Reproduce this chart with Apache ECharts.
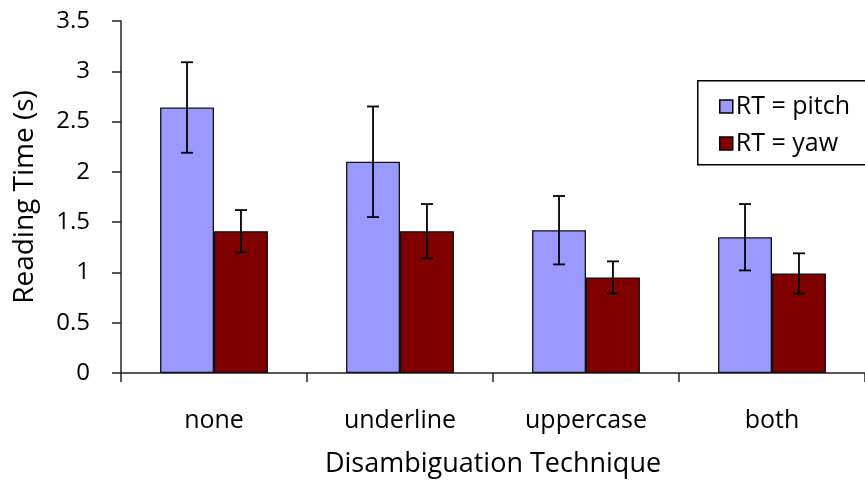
<!DOCTYPE html>
<html>
<head>
<meta charset="utf-8">
<script src="https://cdn.jsdelivr.net/npm/echarts@6/dist/echarts.min.js"></script>
<style>html,body{margin:0;padding:0;background:#fff}#c{width:865px;height:483px}</style>
</head>
<body>
<div id="c"></div>
<script>
const categories = ['none', 'underline', 'uppercase', 'both'];
const pitchValues = [2.64, 2.10, 1.42, 1.35];
const pitchErr = [0.45, 0.55, 0.34, 0.33];
const yawValues = [1.41, 1.41, 0.95, 0.99];
const yawErr = [0.21, 0.27, 0.16, 0.20];
const seriesNames = ['RT = pitch', 'RT = yaw'];
const xTitle = 'Disambiguation Technique';
const yTitle = 'Reading Time (s)';

const FONT = '"Open Sans", "Noto Sans", sans-serif';
const BAR_FRAC = 0.29;

function errData(vals, errs) {
  return vals.map((v, i) => [i, v - errs[i], v + errs[i]]);
}
function errSeries(vals, errs, side) {
  return {
    type: 'custom',
    silent: true,
    z: 10,
    data: errData(vals, errs),
    encode: { x: 0, y: [1, 2] },
    renderItem: function (params, api) {
      const i = api.value(0);
      const lo = api.coord([i, api.value(1)]);
      const hi = api.coord([i, api.value(2)]);
      const band = api.size([1, 0])[0];
      const x = lo[0] + side * band * BAR_FRAC / 2;
      const cap = 6;
      const st = { stroke: '#000', lineWidth: 1.8 };
      return {
        type: 'group',
        children: [
          { type: 'line', shape: { x1: x, y1: lo[1], x2: x, y2: hi[1] }, style: st },
          { type: 'line', shape: { x1: x - cap, y1: lo[1], x2: x + cap, y2: lo[1] }, style: st },
          { type: 'line', shape: { x1: x - cap, y1: hi[1], x2: x + cap, y2: hi[1] }, style: st }
        ]
      };
    }
  };
}

const chart = echarts.init(document.getElementById('c'));
chart.setOption({
  animation: false,
  textStyle: { fontFamily: FONT },
  grid: { left: 121, top: 21, width: 750, bottom: 107, containLabel: false },
  graphic: [{
    type: 'rect', left: 697, top: 80, z: 1,
    shape: { width: 220, height: 84 },
    style: { fill: '#fff', stroke: '#000', lineWidth: 1.5 }
  }],
  legend: {
    left: 697, top: 82,
    z: 5,
    orient: 'vertical',
    data: seriesNames,
    icon: 'rect',
    itemWidth: 13, itemHeight: 13,
    itemGap: 12,
    padding: [12, 20, 11, 22],
    itemStyle: { borderColor: '#000', borderWidth: 1.5 },
    textStyle: { fontFamily: FONT, fontSize: 25, color: '#000', padding: [0, 0, 0, -2] }
  },
  xAxis: {
    type: 'category',
    data: categories,
    name: xTitle,
    nameLocation: 'middle',
    nameGap: 78,
    nameTextStyle: { fontSize: 27, color: '#000', fontFamily: FONT },
    axisLine: { lineStyle: { color: '#222', width: 1.5 } },
    axisTick: { show: true, length: 9, lineStyle: { color: '#222', width: 1.5 } },
    axisLabel: { fontSize: 25, color: '#000', margin: 35, fontFamily: FONT },
    splitLine: { show: false }
  },
  yAxis: {
    type: 'value',
    min: 0, max: 3.5, interval: 0.5,
    name: yTitle,
    nameLocation: 'middle',
    nameGap: 82,
    nameTextStyle: { fontSize: 28, color: '#000', fontFamily: FONT },
    axisLine: { show: true, lineStyle: { color: '#222', width: 1.5 } },
    axisTick: { show: true, inside: false, length: 9, lineStyle: { color: '#222', width: 1.5 } },
    axisLabel: { fontSize: 24, color: '#000', margin: 31, fontFamily: FONT },
    splitLine: { show: false }
  },
  series: [
    {
      name: seriesNames[0], type: 'bar', data: pitchValues,
      barWidth: (BAR_FRAC * 100) + '%', barGap: '0%',
      itemStyle: { color: '#9999FF', borderColor: '#111', borderWidth: 1.3 }
    },
    {
      name: seriesNames[1], type: 'bar', data: yawValues,
      barWidth: (BAR_FRAC * 100) + '%', barGap: '0%',
      itemStyle: { color: '#800000', borderColor: '#111', borderWidth: 1.3 }
    },
    errSeries(pitchValues, pitchErr, -1),
    errSeries(yawValues, yawErr, 1)
  ]
});
</script>
</body>
</html>
